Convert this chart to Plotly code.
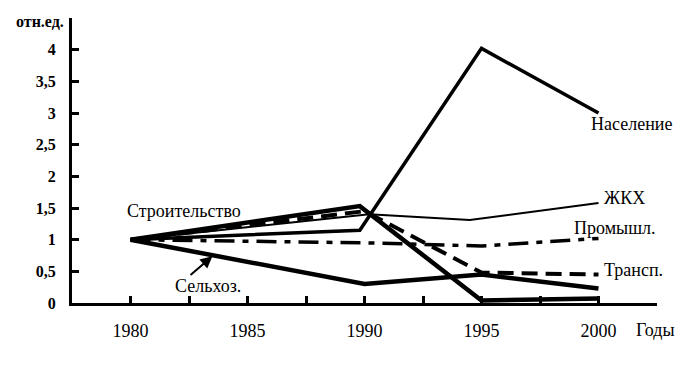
import plotly.graph_objects as go

# ---- data ----
nas_x = [1980, 1989.8, 1995, 2000]
nas_y = [1.0, 1.15, 4.02, 3.0]

zhkh_x = [1980, 1990.2, 1994.5, 2000]
zhkh_y = [1.0, 1.40, 1.31, 1.58]

prom_x = [1980, 1990, 1995, 2000]
prom_y = [1.0, 0.95, 0.90, 1.02]

trans_x = [1980, 1990, 1995, 2000]
trans_y = [1.0, 1.45, 0.48, 0.45]

stroi_x = [1980, 1989.8, 1995, 2000]
stroi_y = [1.0, 1.53, 0.04, 0.07]

selh_x = [1980, 1990, 1995, 2000]
selh_y = [1.0, 0.30, 0.45, 0.23]

x_tickvals = [1980, 1982.5, 1985, 1987.5, 1990, 1992.5, 1995, 1997.5, 2000, 2002.5]
x_ticktext = ["1980", "", "1985", "", "1990", "", "1995", "", "2000", ""]
y_tickvals = [0, 0.5, 1, 1.5, 2, 2.5, 3, 3.5, 4]
y_ticktext = ["<b>0</b>", "<b>0,5</b>", "<b>1</b>", "<b>1,5</b>", "<b>2</b>",
              "<b>2,5</b>", "<b>3</b>", "<b>3,5</b>", "<b>4</b>"]

FONT = "Times New Roman, Liberation Serif, DejaVu Serif, serif"

fig = go.Figure()
def add(x, y, w, dash="solid"):
    fig.add_trace(go.Scatter(x=x, y=y, mode="lines",
                             line=dict(color="black", width=w, dash=dash),
                             showlegend=False, hoverinfo="skip"))

add(zhkh_x, zhkh_y, 2)
add(prom_x, prom_y, 3.5, "20px,8px,6px,8px")
add(trans_x, trans_y, 4, "16px,8px")
add(nas_x, nas_y, 3.5)
add(selh_x, selh_y, 4.5)
add(stroi_x, stroi_y, 4.5)

labels = [
    ("Население", 2001.4, 2.83),
    ("ЖКХ", 2001.1, 1.66),
    ("Промышл.", 2000.7, 1.18),
    ("Трансп.", 2001.5, 0.52),
    ("Строительство", 1982.3, 1.45),
    ("Сельхоз.", 1983.3, 0.27),
]
for t, x, y in labels:
    fig.add_annotation(x=x, y=y, text=t, showarrow=False, xanchor="center", yanchor="middle",
                       font=dict(family=FONT, size=18, color="black"))

# arrow to Сельхоз line
fig.add_annotation(x=1983.5, y=0.74, ax=1982.5, ay=0.42, axref="x", ayref="y",
                   text="", showarrow=True, arrowhead=2, arrowsize=1.2,
                   arrowwidth=2, arrowcolor="black")

fig.add_annotation(xref="paper", yref="paper", x=0.997, y=-0.095, text="Годы",
                   xanchor="center", yanchor="middle",
                   showarrow=False, font=dict(family=FONT, size=18, color="black"))
fig.add_annotation(xref="paper", yref="paper", x=-0.0547, y=0.986, text="<b>отн.ед.</b>",
                   xanchor="center", yanchor="middle",
                   showarrow=False, font=dict(family=FONT, size=16, color="black"))

fig.update_xaxes(range=[1977.5, 2002.5], tickmode="array", tickvals=x_tickvals,
                 ticktext=x_ticktext, ticks="inside", ticklen=7, tickwidth=3,
                 tickcolor="black", showline=True, linewidth=3, linecolor="black",
                 showgrid=False, zeroline=False, ticklabelstandoff=9,
                 tickfont=dict(family=FONT, size=18, color="black"))
fig.update_yaxes(range=[0, 4.5], tickmode="array", tickvals=y_tickvals,
                 ticktext=y_ticktext, ticks="inside", ticklen=7, tickwidth=3,
                 tickcolor="black", showline=True, linewidth=3, linecolor="black",
                 showgrid=False, zeroline=False, ticklabelstandoff=10,
                 tickfont=dict(family=FONT, size=16, color="black"))

fig.update_layout(width=686, height=366, margin=dict(l=72, r=29, t=18, b=63),
                  paper_bgcolor="white", plot_bgcolor="white")

fig.write_html("out.html")
